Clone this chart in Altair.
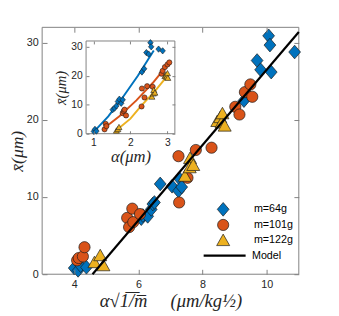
import altair as alt
import pandas as pd

# ---------------- data ----------------
series_names = ["m=64g", "m=101g", "m=122g"]
series_colors = ["#0072BD", "#D95319", "#EDB120"]

# main panel: alpha*sqrt(1/m) vs mean x
m64_x = [4.00, 4.12, 4.20, 4.38, 6.09, 6.14, 6.29, 6.40, 6.45, 6.50, 6.68, 7.05, 7.25, 7.30, 7.35, 9.29, 9.70, 9.81, 10.14, 10.06, 10.10, 10.87]
m64_y = [0.8, 0.5, 1.1, 0.9, 7.2, 7.6, 7.5, 8.4, 9.1, 9.3, 11.7, 11.4, 10.8, 12.3, 11.3, 22.5, 27.7, 26.5, 26.2, 30.9, 29.7, 28.8]
m101_x = [4.09, 4.14, 4.27, 4.32, 5.65, 5.71, 5.81, 5.84, 6.05, 7.25, 7.27, 7.53, 7.79, 8.28, 9.02, 9.15, 9.32, 9.49, 9.55]
m101_y = [1.8, 2.1, 2.3, 3.5, 7.3, 6.1, 8.5, 6.75, 7.8, 15.3, 9.3, 12.5, 16.1, 16.4, 21.7, 20.7, 23.6, 24.6, 23.0]
m122_x = [4.63, 4.81, 4.91, 7.45, 7.61, 7.60, 7.71, 8.46, 8.55, 8.59, 8.62, 8.69]
m122_y = [1.5, 2.4, 1.1, 12.7, 15.0, 13.8, 14.1, 19.8, 20.3, 19.6, 20.8, 19.2]
model_x = [4.57, 11.0]
model_y = [0.0, 31.4]

# inset: alpha vs mean x
in64_a = [1.01, 1.04, 1.08, 1.52, 1.57, 1.62, 1.66, 1.70, 1.75, 1.79, 2.31, 2.37, 2.43, 2.49, 2.54, 2.56, 2.76, 2.87]
in64_y = [0.8, 1.5, 0.9, 8.3, 8.8, 9.6, 11.1, 11.9, 10.5, 11.7, 21.3, 22.4, 28.0, 27.5, 31.4, 30.0, 29.2, 28.6]
in101_a = [1.30, 1.33, 1.35, 1.79, 1.82, 1.84, 1.88, 2.30, 2.31, 2.38, 2.45, 2.60, 2.84, 2.87, 2.93, 3.00, 3.05]
in101_y = [1.5, 3.4, 2.6, 7.1, 7.8, 8.3, 6.3, 9.4, 15.6, 12.5, 16.4, 16.2, 20.7, 21.7, 23.0, 23.9, 24.6]
in122_a = [1.62, 1.66, 1.69, 2.58, 2.62, 2.63, 2.66, 2.93, 2.96, 2.98, 3.00, 3.01]
in122_y = [1.0, 1.5, 2.2, 12.7, 13.8, 15.0, 14.1, 19.8, 20.3, 19.6, 20.8, 19.2]
fit64_a = [1.02, 1.40, 1.76, 2.20, 2.63]
fit64_y = [0.8, 6.0, 12.0, 20.0, 28.7]
fit101_a = [1.25, 1.70, 2.16, 2.60, 3.05]
fit101_y = [1.5, 6.0, 11.5, 17.5, 24.5]
fit122_a = [1.62, 2.00, 2.30, 2.65, 3.02]
fit122_y = [1.2, 5.2, 9.8, 14.5, 20.3]

main_xticks = [4, 6, 8, 10]
main_yticks = [0, 10, 20, 30]
inset_xticks = [1, 2, 3]
inset_yticks = [0, 10, 20, 30]
main_xdomain = [3, 11]
main_ydomain = [0, 32]
inset_xdomain = [0.8, 3.2]
inset_ydomain = [0, 32]

# ---------------- layout constants ----------------
W, H = 263, 253
IX0, IX1, IYT, IYB = 45, 136, 14, 109
FRAME = "#808080"
TXT = "#262626"
SANS = "Liberation Sans"
SERIF = "Liberation Serif"

DIAMOND = "M0,-1.22L1.05,0L0,1.22L-1.05,0Z"
TRI = "M0,-1.15L1.16,0.9L-1.16,0.9Z"
shape_range = [DIAMOND, "circle", TRI]


def frame(xs, ys, name):
    return pd.DataFrame({"x": xs, "y": ys, "series": name})


main_df = pd.concat([frame(m64_x, m64_y, series_names[0]),
                     frame(m101_x, m101_y, series_names[1]),
                     frame(m122_x, m122_y, series_names[2])], ignore_index=True)
inset_df = pd.concat([frame(in64_a, in64_y, series_names[0]),
                      frame(in101_a, in101_y, series_names[1]),
                      frame(in122_a, in122_y, series_names[2])], ignore_index=True)
fit_df = pd.concat([frame(fit64_a, fit64_y, series_names[0]),
                    frame(fit101_a, fit101_y, series_names[1]),
                    frame(fit122_a, fit122_y, series_names[2])], ignore_index=True)
model_df = pd.DataFrame({"x": model_x, "y": model_y, "name": "Model"})
rect_df = pd.DataFrame({"x0": [inset_xdomain[0]], "x1": [inset_xdomain[1]],
                        "y0": [inset_ydomain[0]], "y1": [inset_ydomain[1]]})
main_rect_df = pd.DataFrame({"x0": [main_xdomain[0]], "x1": [main_xdomain[1]],
                             "y0": [main_ydomain[0]], "y1": [main_ydomain[1]]})


def xs_main():
    return alt.Scale(domain=main_xdomain, nice=False, zero=False)


def ys_main():
    return alt.Scale(domain=main_ydomain, nice=False, zero=False)


def xs_in():
    return alt.Scale(domain=inset_xdomain, range=[IX0, IX1], nice=False, zero=False)


def ys_in():
    return alt.Scale(domain=inset_ydomain, range=[IYB, IYT], nice=False, zero=False)


def color_scale():
    return alt.Scale(domain=series_names, range=series_colors)


def shape_scale():
    return alt.Scale(domain=series_names, range=shape_range)


def tick_axis(orient, offset, values, size):
    return alt.Axis(orient=orient, offset=offset, values=values, labels=False,
                    domain=False, ticks=True, tickSize=size, tickColor=FRAME,
                    tickWidth=1, grid=False, title="", zindex=2)


pts_legend = alt.Legend(title=None, orient="none", legendX=179, legendY=180,
                        symbolSize=132, symbolStrokeColor="#1a1a1a",
                        symbolStrokeWidth=0.7, labelFont=SANS, labelFontSize=11,
                        labelColor="#000000", rowPadding=0, labelOffset=25, padding=0)

# ---------------- main panel ----------------
main_box = alt.Chart(main_rect_df).mark_rect(
    fill="white", stroke=FRAME, strokeWidth=1
).encode(
    x=alt.X("x0:Q", scale=xs_main(), axis=None),
    x2="x1:Q",
    y=alt.Y("y0:Q", scale=ys_main(), axis=None),
    y2="y1:Q",
)

main_pts = alt.Chart(main_df).mark_point(
    filled=True, size=132, stroke="#1a1a1a", strokeWidth=0.7, opacity=1
).encode(
    x=alt.X("x:Q", scale=xs_main(), axis=alt.Axis(
        values=main_xticks, ticks=False, domain=False, grid=False, labelFont=SANS,
        labelFontSize=11, labelColor=TXT, labelPadding=5, zindex=2,
        title="\u03b1\u221a1\u0305/\u0305m\u0305\u2003\u2005(\u03bcm/kg\u00bd)",
        titleFont=SERIF, titleFontStyle="italic", titleFontWeight="normal",
        titleFontSize=19, titleColor=TXT, titlePadding=2)),
    y=alt.Y("y:Q", scale=ys_main(), axis=alt.Axis(
        values=main_yticks, ticks=False, domain=False, grid=False, labelFont=SANS,
        labelFontSize=11, labelColor=TXT, labelPadding=4, zindex=2,
        title="x\u0304(\u03bcm)", titleFont=SERIF, titleFontStyle="italic",
        titleFontWeight="normal", titleFontSize=18, titleColor=TXT, titlePadding=0)),
    color=alt.Color("series:N", scale=color_scale(), legend=pts_legend),
    shape=alt.Shape("series:N", scale=shape_scale(), legend=pts_legend),
)

model_line = alt.Chart(model_df).mark_line(strokeWidth=2.2).encode(
    x=alt.X("x:Q", scale=xs_main(), axis=None),
    y=alt.Y("y:Q", scale=ys_main(), axis=None),
    color=alt.Color("name:N", scale=alt.Scale(domain=["Model"], range=["#000000"]),
                    legend=alt.Legend(title=None, orient="none", legendX=164, legendY=211,
                                      symbolType="stroke", symbolSize=1849,
                                      symbolStrokeWidth=2.2, labelFont=SANS,
                                      labelFontSize=11, labelColor="#000000",
                                      labelOffset=5, padding=0)),
)

main_ticks_a = alt.Chart(main_df).mark_point(opacity=0).encode(
    x=alt.X("x:Q", scale=xs_main(), axis=tick_axis("top", -H, main_xticks, 5)),
    y=alt.Y("y:Q", scale=ys_main(), axis=tick_axis("right", -W, main_yticks, 5)),
)
main_ticks_b = alt.Chart(main_df).mark_point(opacity=0).encode(
    x=alt.X("x:Q", scale=xs_main(), axis=tick_axis("bottom", -H, main_xticks, 5)),
    y=alt.Y("y:Q", scale=ys_main(), axis=tick_axis("left", -W, main_yticks, 5)),
)

# ---------------- inset ----------------
inset_box = alt.Chart(rect_df).mark_rect(fill="white", stroke=FRAME, strokeWidth=1).encode(
    x=alt.X("x0:Q", scale=xs_in(), axis=None),
    x2="x1:Q",
    y=alt.Y("y0:Q", scale=ys_in(), axis=None),
    y2="y1:Q",
)

inset_lines = alt.Chart(fit_df).mark_line(strokeWidth=2).encode(
    x=alt.X("x:Q", scale=xs_in(), axis=None),
    y=alt.Y("y:Q", scale=ys_in(), axis=None),
    color=alt.Color("series:N", scale=color_scale(), legend=None),
    order=alt.Order("x:Q"),
)

inset_pts = alt.Chart(inset_df).mark_point(
    filled=True, size=28, stroke="#1a1a1a", strokeWidth=0.6, opacity=1
).encode(
    x=alt.X("x:Q", scale=xs_in(), axis=alt.Axis(
        orient="bottom", offset=-(H - IYB), values=inset_xticks, ticks=False,
        domain=False, grid=False, labelFont=SANS, labelFontSize=10.5, labelColor=TXT,
        labelPadding=4, zindex=2, title="\u03b1(\u03bcm)", titleFont=SERIF,
        titleFontStyle="italic", titleFontWeight="normal", titleFontSize=17,
        titleColor=TXT, titlePadding=1)),
    y=alt.Y("y:Q", scale=ys_in(), axis=alt.Axis(
        orient="left", offset=-IX0, values=inset_yticks, ticks=False,
        domain=False, grid=False, labelFont=SANS, labelFontSize=10.5, labelColor=TXT,
        labelPadding=4, zindex=2, title="x\u0304(\u03bcm)", titleFont=SERIF,
        titleFontStyle="italic", titleFontWeight="normal", titleFontSize=15,
        titleColor=TXT, titlePadding=2)),
    color=alt.Color("series:N", scale=color_scale(), legend=None),
    shape=alt.Shape("series:N", scale=shape_scale(), legend=None),
)

inset_ticks_a = alt.Chart(inset_df).mark_point(opacity=0).encode(
    x=alt.X("x:Q", scale=xs_in(), axis=tick_axis("top", -IYB, inset_xticks, 3)),
    y=alt.Y("y:Q", scale=ys_in(), axis=tick_axis("right", -(W - IX0), inset_yticks, 3)),
)
inset_ticks_b = alt.Chart(inset_df).mark_point(opacity=0).encode(
    x=alt.X("x:Q", scale=xs_in(), axis=tick_axis("bottom", -(H - IYT), inset_xticks, 3)),
    y=alt.Y("y:Q", scale=ys_in(), axis=tick_axis("left", -IX1, inset_yticks, 3)),
)

chart = alt.layer(
    main_box, main_pts, model_line, main_ticks_a, main_ticks_b,
    inset_box, inset_lines, inset_pts, inset_ticks_a, inset_ticks_b,
).resolve_scale(
    x="independent", y="independent", color="independent", shape="independent"
).resolve_axis(
    x="independent", y="independent"
).properties(
    width=W, height=H,
    background="white",
    autosize=alt.AutoSizeParams(type="none"),
    padding={"left": 35, "top": 16, "right": 33, "bottom": 39},
).configure_view(stroke=None)

chart.save("out.html", embed_options={"renderer": "svg", "actions": False})
